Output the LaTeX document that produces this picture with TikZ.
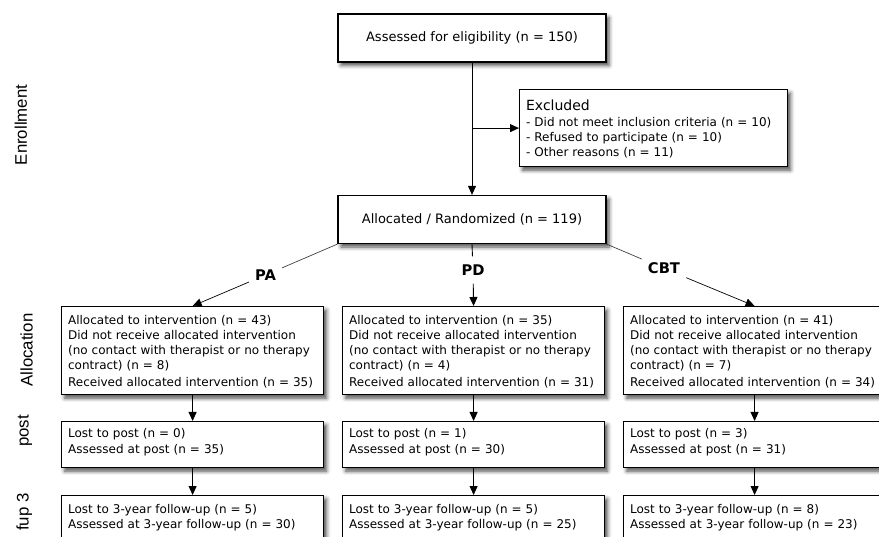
\documentclass[tikz,border=0pt]{standalone}
\usepackage{fontspec}
\setmainfont{DejaVu Sans}
\newfontfamily\labfont{Liberation Sans}
\usetikzlibrary{arrows.meta,shadows.blur}
\begin{document}
\begin{tikzpicture}[x=1pt,y=-1pt,
  box/.style={draw=black, line width=1.2pt, fill=white,
    blur shadow={shadow xshift=3pt, shadow yshift=-3.5pt, shadow blur radius=4pt, shadow opacity=70}},
  mainbox/.style={box, minimum width=268pt, minimum height=48pt, inner sep=0pt,
    font=\fontsize{13}{16}\selectfont},
  textbox/.style={box, anchor=north west, align=left, inner ysep=0pt, inner xsep=6.5pt},
  armbox/.style={textbox, text width=249pt},
  arr/.style={line width=0.9pt, -{Triangle[length=9pt,width=8pt]}},
  thinline/.style={line width=0.7pt, draw=black!75},
  armlabel/.style={font=\fontsize{14.7}{16}\selectfont\bfseries, inner xsep=6pt, inner ysep=8pt},
  phase/.style={font=\labfont\fontsize{16.8}{18}\selectfont, rotate=90, anchor=base, inner sep=0pt}
]
\useasboundingbox (0,0) rectangle (879,537);

% phase labels
\node[phase] (lenroll) at (27,125) {Enrollment};
\node[phase] (lalloc) at (32.5,350) {Allocation};
\node[phase] (lpost) at (28.5,431) {post};
\node[phase] (lfup) at (28.5,512) {fup 3};

% enrollment
\node[mainbox] (assess) at (472,38) {Assessed for eligibility (n = 150)};
\node[textbox, text width=255pt, inner xsep=6.5pt, text height=21pt, text depth=56pt,
  font=\fontsize{12}{15}\selectfont] (excl) at (519,89)
  {{\fontsize{14}{15}\selectfont Excluded}\\[1pt]
   - Did not meet inclusion criteria (n = 10)\\
   - Refused to participate (n = 10)\\
   - Other reasons (n = 11)};
\node[mainbox] (alloc) at (472,219.5) {Allocated / Randomized (n = 119)};

\coordinate (br) at (assess.south |- excl.west);
\draw[arr] (assess) -- (alloc);
\draw[arr] (br) -- (excl.west);

% arm labels
\node[armlabel] (pa) at (265.5,275) {PA};
\node[armlabel] (pd) at (473,270) {PD};
\node[armlabel] (cbt) at (664,268.5) {CBT};

% allocation boxes
\foreach \n/\x/\a/\d/\r in {pa1/61/43/8/35, pd1/342/35/4/31, cbt1/623/41/7/34}{
  \node[armbox, text height=18.4pt, text depth=69.6pt, font=\fontsize{12}{14.7}\selectfont]
    (\n) at (\x,306)
    {Allocated to intervention (n = \a)\\
     Did not receive allocated intervention\\
     (no contact with therapist or no therapy\\
     contract) (n = \d)\\[3pt]
     Received allocated intervention (n = \r)};
}
% post boxes
\foreach \n/\x/\l/\s in {pa2/61/0/35, pd2/342/1/30, cbt2/623/3/31}{
  \node[armbox, text height=16.4pt, text depth=29.6pt, font=\fontsize{12}{15.8}\selectfont]
    (\n) at (\x,421)
    {Lost to post (n = \l)\\
     Assessed at post (n = \s)};
}
% follow-up boxes
\foreach \n/\x/\l/\s in {pa3/61/5/30, pd3/342/5/25, cbt3/623/8/23}{
  \node[armbox, text height=17.4pt, text depth=28.6pt, font=\fontsize{12}{15}\selectfont]
    (\n) at (\x,495)
    {Lost to 3-year follow-up (n = \l)\\
     Assessed at 3-year follow-up (n = \s)};
}

% connectors
\draw[thinline] (alloc.south west) -- (pa);
\draw[arr, line width=0.7pt] (pa) -- (pa1.north);
\draw[line width=0.9pt] (alloc.south) -- (pd);
\draw[arr] (pd) -- (pd1.north);
\draw[thinline] (alloc.south east) -- (cbt);
\draw[arr, line width=0.7pt] (cbt) -- (cbt1.north);

\draw[arr] (pa1) -- (pa2);
\draw[arr] (pd1) -- (pd2);
\draw[arr] (cbt1) -- (cbt2);
\draw[arr] (pa2) -- (pa3);
\draw[arr] (pd2) -- (pd3);
\draw[arr] (cbt2) -- (cbt3);
\end{tikzpicture}
\end{document}
